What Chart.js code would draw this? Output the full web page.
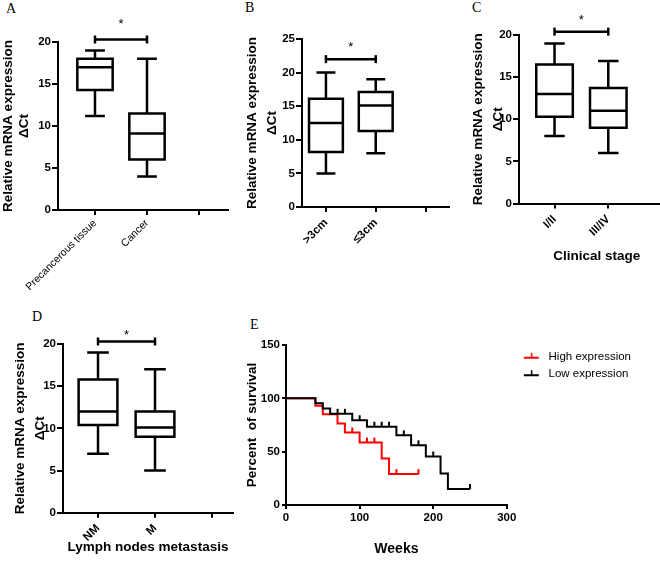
<!DOCTYPE html>
<html><head><meta charset="utf-8">
<script src="https://cdn.jsdelivr.net/npm/chart.js@4.4.1/dist/chart.umd.min.js"></script>
<style>
html,body{margin:0;padding:0;width:660px;height:564px;overflow:hidden;background:#fff;}
canvas.panel{position:absolute;display:block;}
.letter{position:absolute;font-family:"Liberation Serif","Times New Roman",serif;font-size:14px;line-height:14px;color:#000;}
</style></head><body>
<div class="letter" style="left:6px;top:1.5px">A</div>
<div class="letter" style="left:245px;top:0.5px">B</div>
<div class="letter" style="left:472px;top:0.5px">C</div>
<div class="letter" style="left:32px;top:309.5px">D</div>
<div class="letter" style="left:250px;top:318px">E</div>
<canvas id="cA" class="panel" style="left:0;top:0" width="240" height="290"></canvas>
<canvas id="cB" class="panel" style="left:240px;top:0" width="215" height="290"></canvas>
<canvas id="cC" class="panel" style="left:465px;top:0" width="216" height="270"></canvas>
<canvas id="cD" class="panel" style="left:0;top:300px" width="245" height="264"></canvas>
<canvas id="cE" class="panel" style="left:230px;top:300px" width="430" height="264"></canvas>
<script>
// ---------- DATA (box stats: [min, Q1, median, Q3, max]) ----------
const catsA = ['Precancerous tissue', 'Cancer', ''];
const precancerous = [11.2, 14.3, 17, 18, 19];
const cancer = [4, 6, 9.1, 11.5, 18];
const sigA = [20.3, 22.4];          // bracket level, star level

const catsB = ['>3cm', '\u22643cm', ''];
const over3cm = [5, 8.2, 12.5, 16.1, 20];
const under3cm = [8, 11.3, 15.1, 17.1, 19];
const sigB = [22, 24.2];

const catsC = ['I/II', 'III/IV', ''];
const stageI_II = [8, 10.3, 13, 16.5, 19];
const stageIII_IV = [6, 9, 11, 13.7, 16.9];
const sigC = [20.4, 22.1];

const catsD = ['NM', 'M', ''];
const nonMetastasis = [7, 10.4, 12, 15.8, 19];
const metastasis = [5, 9, 10.1, 12, 17];
const sigD = [20.3, 21.4];

const yTicks20 = [0, 5, 10, 15, 20];
const yTicks25 = [0, 5, 10, 15, 20, 25];

// Kaplan-Meier survival (weeks, percent)
const highTimes = [0, 40, 50, 70, 80, 100, 130, 140, 180];
const highSurv  = [100, 93, 85, 76.5, 68, 58.5, 43.5, 29, 29];
const highCensorT = [90, 110, 120, 150, 180];
const highCensorS = [68, 58.5, 58.5, 29, 29];
const lowTimes = [0, 40, 50, 60, 90, 110, 150, 170, 190, 210, 220, 250];
const lowSurv  = [100, 95.3, 90.5, 85.5, 79.5, 73.4, 65.3, 56, 45.5, 29.5, 15, 15];
const lowCensorT = [70, 80, 100, 120, 130, 140, 160, 180, 200, 250];
const lowCensorS = [85.5, 85.5, 79.5, 73.4, 73.4, 73.4, 65.3, 56, 45.5, 15];
const kmXTicks = [0, 100, 200, 300];
const kmYTicks = [0, 50, 100, 150];

// ---------- STYLE / HELPERS ----------
Chart.defaults.font.family = '"Liberation Sans", Arial, Helvetica, sans-serif';
Chart.defaults.color = '#000';
const BOX_HALF = 0.34, CAP_HALF = 0.19;

function boxData(c, s) {
  const [mn, q1, md, q3, mx] = s;
  const gap = {x: c, y: null};
  return [
    {x: c, y: q1}, {x: c + BOX_HALF, y: q1}, {x: c + BOX_HALF, y: q3}, {x: c - BOX_HALF, y: q3}, {x: c - BOX_HALF, y: q1}, {x: c, y: q1}, gap,
    {x: c - BOX_HALF, y: md}, {x: c + BOX_HALF, y: md}, gap,
    {x: c, y: q1}, {x: c, y: mn}, gap,
    {x: c - CAP_HALF, y: mn}, {x: c + CAP_HALF, y: mn}, gap,
    {x: c, y: q3}, {x: c, y: mx}, gap,
    {x: c - CAP_HALF, y: mx}, {x: c + CAP_HALF, y: mx}
  ];
}
const zip = (xs, ys) => xs.map((x, i) => ({x, y: ys[i]}));

const starPlugin = {
  id: 'sigStar',
  afterDatasetsDraw(chart, args, opts) {
    if (!opts || opts.y == null) return;
    const {ctx, scales: {x, y}} = chart;
    ctx.save();
    ctx.font = '13px "Liberation Sans", Arial, sans-serif';
    ctx.fillStyle = '#000'; ctx.textAlign = 'center'; ctx.textBaseline = 'middle';
    ctx.fillText('*', x.getPixelForValue(opts.x), y.getPixelForValue(opts.y) + 3);
    ctx.restore();
  }
};
Chart.register(starPlugin);

// condensed font for panel A labels, only if it is really installed
const mctx = document.createElement('canvas').getContext('2d');
function hasFont(name) {
  const s = 'Precancerous tissue mmmWW';
  mctx.font = '20px monospace'; const a = mctx.measureText(s).width;
  mctx.font = '20px "' + name + '", monospace'; const b = mctx.measureText(s).width;
  return Math.abs(a - b) > 0.5;
}
const fontA = hasFont('Liberation Sans Narrow') ? {family: '"Liberation Sans Narrow"', size: 12.5} : {size: 10.5};

function makeBoxChart(cfg) {
  const datasets = cfg.series.map((s, i) => ({
    data: boxData(i + 1, s), showLine: true, borderColor: '#000', borderWidth: 2.5,
    pointRadius: 0, borderJoinStyle: 'miter', borderCapStyle: 'butt', spanGaps: false, fill: false
  }));
  datasets.push({
    data: [{x: 1, y: cfg.sig[0]}, {x: 2, y: cfg.sig[0]}], showLine: true, borderColor: '#000', borderWidth: 2.5,
    pointStyle: 'line', pointRotation: 90, pointRadius: 4, pointBorderWidth: 2.5, pointBorderColor: '#000', clip: false
  });
  new Chart(document.getElementById(cfg.id), {
    type: 'scatter',
    data: {datasets},
    options: {
      responsive: false, animation: false, events: [],
      layout: {padding: cfg.pad},
      plugins: {legend: {display: false}, tooltip: {enabled: false}, sigStar: {x: 1.5, y: cfg.sig[1]}},
      scales: {
        x: {
          type: 'linear', min: cfg.xmin, max: cfg.xmax,
          afterBuildTicks: s => { s.ticks = cfg.cats.map((_, i) => ({value: i + 1})); },
          afterFit: s => { s.height = cfg.xH; },
          ticks: {autoSkip: false, minRotation: 45, maxRotation: 45, padding: cfg.xPad, font: cfg.xFont, color: '#000',
                  callback: v => cfg.cats[Math.round(v) - 1]},
          grid: {drawOnChartArea: false, drawTicks: true, tickLength: 5, color: '#000', lineWidth: 2},
          border: {display: true, color: '#000', width: 2},
          title: cfg.xTitle ? {display: true, text: cfg.xTitle, font: {size: 13.5, weight: 'bold'},
                  padding: {top: 0, bottom: cfg.xTitlePB}, color: '#000'} : {display: false}
        },
        y: {
          min: 0, max: cfg.yTicks[cfg.yTicks.length - 1],
          afterBuildTicks: s => { s.ticks = cfg.yTicks.map(v => ({value: v})); },
          afterFit: s => { s.width = cfg.yW; },
          ticks: {padding: 1, font: {size: 11.5, weight: 'bold'}, color: '#000'},
          grid: {drawOnChartArea: false, drawTicks: true, tickLength: 6, color: '#000', lineWidth: 2},
          border: {display: true, color: '#000', width: 2},
          title: {display: true, text: ['Relative mRNA expression', '\u0394Ct'],
                  font: {size: 13.5, weight: 'bold', lineHeight: cfg.titleLH},
                  padding: {top: cfg.titlePT, bottom: 0}, color: '#000'}
        }
      }
    }
  });
}

makeBoxChart({id: 'cA', cats: catsA, series: [precancerous, cancer], sig: sigA, yTicks: yTicks20,
  xmin: 0.2885, xmax: 3.558, yW: 58, xH: 80, pad: {top: 42, right: 12, bottom: 0, left: 0},
  titleLH: 1.22, titlePT: 0, xFont: fontA, xPad: 2});
makeBoxChart({id: 'cB', cats: catsB, series: [over3cm, under3cm], sig: sigB, yTicks: yTicks25,
  xmin: 0.519, xmax: 3.462, yW: 62, xH: 83, pad: {top: 39, right: 0, bottom: 0, left: 0},
  titleLH: 1.48, titlePT: 2.5, xFont: {size: 11.5, weight: 'bold'}, xPad: 4});
makeBoxChart({id: 'cC', cats: catsC, series: [stageI_II, stageIII_IV], sig: sigC, yTicks: yTicks20,
  xmin: 0.339, xmax: 3.232, yW: 54, xH: 66.5, pad: {top: 35, right: 0, bottom: 0, left: 0},
  titleLH: 1.48, titlePT: 3.5, xFont: {size: 11.5, weight: 'bold'}, xPad: 4, xTitle: 'Clinical stage', xTitlePB: 6});
makeBoxChart({id: 'cD', cats: catsD, series: [nonMetastasis, metastasis], sig: sigD, yTicks: yTicks20,
  xmin: 0.386, xmax: 3.368, yW: 63, xH: 51.3, pad: {top: 44, right: 12, bottom: 0, left: 0},
  titleLH: 1.48, titlePT: 10, xFont: {size: 11.5, weight: 'bold'}, xPad: 4, xTitle: 'Lymph nodes metastasis', xTitlePB: 9});

// ---------- Panel E: Kaplan-Meier ----------
function tickImg(color) {
  const c = document.createElement('canvas'); c.width = 4; c.height = 12;
  const g = c.getContext('2d'); g.fillStyle = color; g.fillRect(1, 1, 2, 5); return c;
}
function legImg(color) {
  const c = document.createElement('canvas'); c.width = 30; c.height = 12;
  const g = c.getContext('2d'); g.fillStyle = color;
  g.fillRect(11, 6, 15, 2); g.fillRect(18, 2, 1.5, 5); return c;
}
const RED = '#ff0000', BLACK = '#000000';
new Chart(document.getElementById('cE'), {
  type: 'scatter',
  data: {datasets: [
    {label: 'Low expression', data: zip(lowTimes, lowSurv), showLine: true, stepped: 'before',
     borderColor: BLACK, borderWidth: 2, pointRadius: 0},
    {label: 'Low censored', data: zip(lowCensorT, lowCensorS), showLine: false,
     pointStyle: tickImg(BLACK), pointRadius: 3},
    {label: 'High expression', data: zip(highTimes, highSurv), showLine: true, stepped: 'before',
     borderColor: RED, borderWidth: 2, pointRadius: 0},
    {label: 'High censored', data: zip(highCensorT, highCensorS), showLine: false,
     pointStyle: tickImg(RED), pointRadius: 3}
  ]},
  options: {
    responsive: false, animation: false, events: [],
    layout: {padding: {top: 45, right: 19, bottom: 0, left: 0}},
    plugins: {
      tooltip: {enabled: false},
      legend: {
        display: true, position: 'right', align: 'start', maxWidth: 200,
        labels: {
          usePointStyle: true, pointStyleWidth: 30, padding: 6, color: '#000',
          font: {size: 11.5},
          generateLabels: () => [
            {text: 'High expression', pointStyle: legImg(RED), fillStyle: RED, strokeStyle: RED, lineWidth: 0, hidden: false, datasetIndex: 2},
            {text: 'Low expression', pointStyle: legImg(BLACK), fillStyle: BLACK, strokeStyle: BLACK, lineWidth: 0, hidden: false, datasetIndex: 0}
          ]
        }
      }
    },
    scales: {
      x: {
        type: 'linear', min: 0, max: 300,
        afterBuildTicks: s => { s.ticks = kmXTicks.map(v => ({value: v})); },
        afterFit: s => { s.height = 59; },
        ticks: {padding: 2, font: {size: 11.5, weight: 'bold'}, color: '#000', maxRotation: 0},
        grid: {drawOnChartArea: false, drawTicks: true, tickLength: 4, color: '#000', lineWidth: 2},
        border: {display: true, color: '#000', width: 2},
        title: {display: true, text: 'Weeks', font: {size: 14, weight: 'bold'}, padding: {top: 0, bottom: 6}, color: '#000'}
      },
      y: {
        min: 0, max: 150,
        afterBuildTicks: s => { s.ticks = kmYTicks.map(v => ({value: v})); },
        afterFit: s => { s.width = 56; },
        ticks: {padding: 2, font: {size: 11.5, weight: 'bold'}, color: '#000'},
        grid: {drawOnChartArea: false, drawTicks: true, tickLength: 4, color: '#000', lineWidth: 2},
        border: {display: true, color: '#000', width: 2},
        title: {display: true, text: 'Percent  of survival', font: {size: 13.5, weight: 'bold'}, padding: {top: 14, bottom: 0}, color: '#000'}
      }
    }
  }
});
</script>
</body></html>
